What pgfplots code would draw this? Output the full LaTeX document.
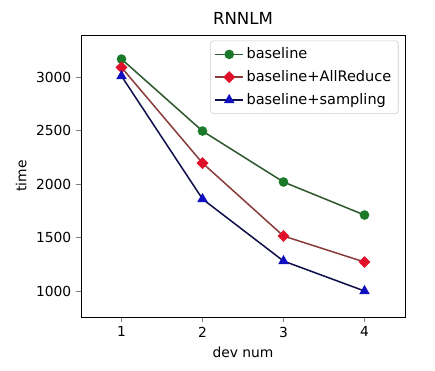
\documentclass[border=0pt]{standalone}
\usepackage{pgfplots}
\pgfplotsset{compat=1.18}
\usepackage{fontspec}
\setmainfont{DejaVu Sans}
\definecolor{bgreen}{HTML}{1B7A2A}
\definecolor{bline}{HTML}{2E5A2E}
\definecolor{rmark}{HTML}{E0102A}
\definecolor{rline}{HTML}{8A3C3C}
\definecolor{smark}{HTML}{1010C0}
\definecolor{sline}{HTML}{10104A}
\begin{document}
\begin{tikzpicture}
\path (-0.81in,-0.54in) rectangle (3.54in,3.17in);
\begin{axis}[
  at={(0,0)}, anchor=south west,
  scale only axis,
  width=3.24in, height=2.82in,
  xmin=0.5, xmax=4.5,
  ymin=757, ymax=3393,
  xtick={1,2,3,4},
  ytick={1000,1500,2000,2500,3000},
  tick align=outside,
  tick pos=left,
  major tick length=3.5pt,
  /pgf/number format/assume math mode=true,
  /pgf/number format/1000 sep={},
  ticklabel style={font=\fontsize{10}{12}\selectfont},
  xlabel={dev num}, ylabel={time},
  label style={font=\fontsize{10}{12}\selectfont},
  title={RNNLM},
  title style={font=\fontsize{12}{14}\selectfont, yshift=-2pt},
  legend pos=north east,
  legend style={draw=black!20, rounded corners=2pt, font=\fontsize{10.5}{12}\selectfont, row sep=3pt, inner sep=3pt, at={(0.98,0.98)}},
  legend image code/.code={
    \draw[mark repeat=2,mark phase=2] plot coordinates {(0cm,0cm) (0.35cm,0cm) (0.7cm,0cm)};
  },
  legend cell align=left,
]
\addplot[color=bline, line width=1.1pt, mark=*, mark size=2.9pt, mark options={fill=bgreen, draw=bgreen}]
  coordinates {(1,3168) (2,2495) (3,2019) (4,1710)};
\addlegendentry{baseline}
\addplot[color=rline, line width=1.1pt, mark=square*, mark size=2.5pt, mark options={fill=rmark, draw=rmark, rotate=45}]
  coordinates {(1,3090) (2,2196) (3,1514) (4,1271)};
\addlegendentry{baseline+AllReduce}
\addplot[color=sline, line width=1.1pt, mark=triangle*, mark size=3.3pt, mark options={fill=smark, draw=smark}]
  coordinates {(1,3009) (2,1860) (3,1280) (4,1000)};
\addlegendentry{baseline+sampling}
\end{axis}
\end{tikzpicture}
\end{document}
